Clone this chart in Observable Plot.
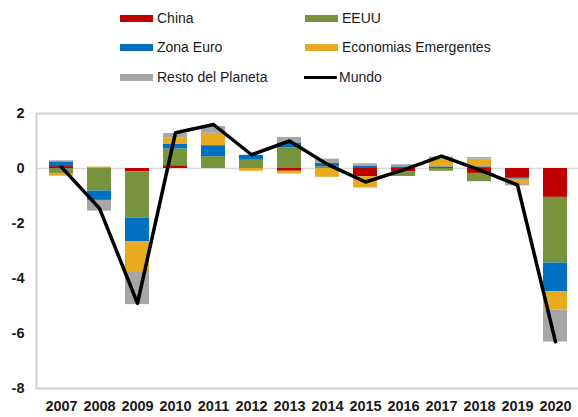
<!DOCTYPE html>
<html><head><meta charset="utf-8">
<script src="https://cdn.jsdelivr.net/npm/d3@7"></script>
<script src="https://cdn.jsdelivr.net/npm/@observablehq/plot@0.6"></script>
<style>
body{margin:0;background:#fff;font-family:"Liberation Sans",Arial,sans-serif;}
#wrap{position:relative;width:578px;height:417px;overflow:hidden;background:#fff}
#legend{position:absolute;left:0;top:0;width:578px;height:98px}
.item{position:absolute;display:flex;align-items:center;font-size:14px;color:#1a1a1a;height:20px}
.sw{width:33px;height:7px;margin-right:4px}
.ln{width:33px;height:3px;margin-right:2px;background:#000}
#chart{position:absolute;left:0;top:98px}
</style></head><body>
<div id="wrap"><div id="legend"></div><div id="chart"></div></div>
<script>
const years = ["2007","2008","2009","2010","2011","2012","2013","2014","2015","2016","2017","2018","2019","2020"];
const seriesNames = ["China","EEUU","Zona Euro","Economias Emergentes","Resto del Planeta"];
const seriesColors = ["#C00000","#77933C","#0070C0","#E8AA1E","#A6A6A6"];
const china      = [0.07, 0.00, -0.12, 0.10, 0.00, 0.00, -0.10, 0.00, -0.30, -0.13, 0.00, -0.18, -0.33, -1.05];
const eeuu       = [-0.18, -0.82, -1.68, 0.61, 0.43, 0.30, 0.75, 0.06, 0.00, -0.16, -0.10, -0.30, 0.00, -2.39];
const zonaEuro   = [0.17, -0.34, -0.86, 0.18, 0.40, 0.18, 0.18, 0.12, 0.09, 0.06, 0.06, 0.06, -0.06, -1.04];
const emergentes = [-0.10, 0.05, -1.12, 0.22, 0.45, -0.10, -0.10, -0.32, -0.41, 0.00, 0.30, 0.28, -0.16, -0.67];
const resto      = [0.04, -0.39, -1.17, 0.16, 0.25, 0.00, 0.20, 0.16, 0.08, 0.08, 0.06, 0.06, -0.08, -1.16];
const mundo      = [0.05, -1.45, -4.90, 1.30, 1.60, 0.50, 1.00, 0.15, -0.49, -0.05, 0.45, -0.05, -0.60, -6.30];
const yTicks = [-8, -6, -4, -2, 0, 2];

const seriesValues = [china, eeuu, zonaEuro, emergentes, resto];
const rows = [];
years.forEach((yr, i) => {
  seriesNames.forEach((s, k) => rows.push({year: yr, serie: s, value: seriesValues[k][i]}));
});
const lineRows = years.map((yr, i) => ({year: yr, value: mundo[i]}));

// legend
const legendItems = [
  {name: "China", color: seriesColors[0], left: 120, top: 8},
  {name: "EEUU", color: seriesColors[1], left: 305, top: 8},
  {name: "Zona Euro", color: seriesColors[2], left: 120, top: 37},
  {name: "Economias Emergentes", color: seriesColors[3], left: 305, top: 37},
  {name: "Resto del Planeta", color: seriesColors[4], left: 120, top: 67},
  {name: "Mundo", color: "#000", left: 304, top: 67, line: true}
];
const lg = document.getElementById("legend");
legendItems.forEach(d => {
  const it = document.createElement("div");
  it.className = "item";
  it.style.left = d.left + "px";
  it.style.top = d.top + "px";
  const sw = document.createElement("span");
  sw.className = d.line ? "ln" : "sw";
  sw.style.background = d.color;
  const tx = document.createElement("span");
  tx.textContent = d.name;
  it.appendChild(sw); it.appendChild(tx);
  lg.appendChild(it);
});

const chart = Plot.plot({
  width: 578, height: 319,
  marginTop: 15, marginBottom: 29, marginLeft: 36, marginRight: -2,
  style: {fontFamily: '"Liberation Sans",Arial,sans-serif', fontSize: "14.5px", color: "#1a1a1a", background: "#fff", overflow: "visible"},
  x: {domain: years, paddingInner: 0.36, paddingOuter: 0.18},
  y: {domain: [-8, 2]},
  color: {domain: seriesNames, range: seriesColors},
  marks: [
    Plot.ruleY([0], {stroke: "#d9d9d9", strokeWidth: 1.5}),
    Plot.barY(rows, {x: "year", y: "value", fill: "serie"}),
    Plot.frame({stroke: "#cfcfcf", strokeWidth: 2}),
    Plot.lineY(lineRows, {x: "year", y: "value", stroke: "#000", strokeWidth: 3.5, strokeLinejoin: "round"}),
    Plot.axisY({ticks: yTicks, tickSize: 0, tickPadding: 12, label: null, fontWeight: "bold", tickFormat: d => String(d)}),
    Plot.axisX({tickSize: 0, tickPadding: 12, label: null, fontWeight: "bold"})
  ]
});
document.getElementById("chart").appendChild(chart);
</script>
</body></html>
